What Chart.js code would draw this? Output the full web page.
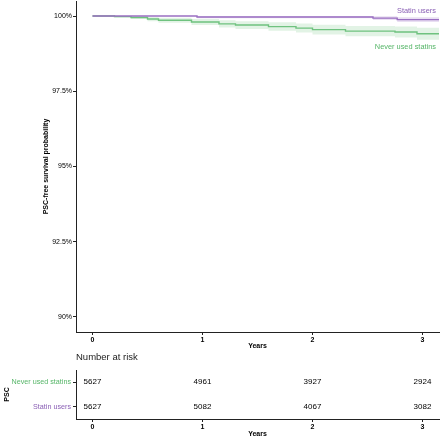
<!DOCTYPE html>
<html>
<head>
<meta charset="utf-8">
<script src="https://cdn.jsdelivr.net/npm/chart.js@4.4.1/dist/chart.umd.min.js"></script>
<style>
  body { margin: 0; background: #fff; }
  #km-box { position: absolute; left: 0; top: 0; width: 440px; height: 350px; }
  #risk-box { position: absolute; left: 0; top: 350px; width: 440px; height: 88px; }
</style>
</head>
<body>
<div id="km-box"><canvas id="km-chart" width="440" height="350"></canvas></div>
<div id="risk-box"><canvas id="risk-chart" width="440" height="88"></canvas></div>
<script>
// KM curves (years, survival %)
const statinTimes = [0, 0.95, 2.55, 2.77, 3.15];
const statinSurv = [100, 99.97, 99.93, 99.88, 99.88];
const statinLower = [100, 99.93, 99.87, 99.8, 99.8];
const statinUpper = [100, 100, 99.99, 99.96, 99.96];

const neverTimes = [0, 0.2, 0.35, 0.5, 0.6, 0.9, 1.15, 1.3, 1.6, 1.85, 2.0, 2.3, 2.75, 2.95, 3.15];
const neverSurv = [100, 99.98, 99.95, 99.9, 99.86, 99.8, 99.74, 99.7, 99.65, 99.6, 99.55, 99.5, 99.47, 99.41, 99.41];
const neverLower = [100, 99.95, 99.9, 99.83, 99.78, 99.7, 99.62, 99.57, 99.51, 99.45, 99.39, 99.33, 99.29, 99.21, 99.21];
const neverUpper = [100, 100, 100, 99.97, 99.94, 99.9, 99.86, 99.83, 99.79, 99.75, 99.71, 99.67, 99.65, 99.61, 99.61];

const xTicks = [0, 1, 2, 3];
const yTicks = [90, 92.5, 95, 97.5, 100];

// number at risk table
const groups = ["Never used statins", "Statin users"];
const riskTimes = [0, 1, 2, 3];
const riskNever = [5627, 4961, 3927, 2924];
const riskStatin = [5627, 5082, 4067, 3082];

const purple = "#9a6fc2";
const green = "#6fc27f";
const purpleText = "#8a5fb5";
const greenText = "#55b567";
const axisColor = "#222";
const font = "'Liberation Sans', Arial, sans-serif";

const pts = (xs, ys) => xs.map((x, i) => ({ x: x, y: ys[i] }));

function noPad(s) {
  s.paddingTop = 0;
  s.paddingBottom = 0;
  s.paddingLeft = 0;
  s.paddingRight = 0;
}

const xAxis = (h) => ({
  type: "linear",
  min: -0.15,
  max: 3.15,
  afterBuildTicks: (s) => { s.ticks = xTicks.map((v) => ({ value: v })); },
  afterFit: (s) => { s.height = h; noPad(s); },
  border: { display: true, color: axisColor, width: 1 },
  grid: { display: true, drawOnChartArea: false, drawTicks: true, tickLength: 3, color: axisColor },
  ticks: { autoSkip: false, maxRotation: 0, padding: 1, color: "#000", font: { family: font, size: 7, weight: "bold" } },
  title: { display: true, text: "Years", color: "#000", padding: { top: 0, bottom: 0 }, font: { family: font, size: 7, weight: "bold" } },
});

// end-of-curve labels
const curveLabels = {
  id: "curveLabels",
  afterDatasetsDraw(chart) {
    const { ctx, chartArea, scales } = chart;
    ctx.save();
    ctx.font = "7.4px " + font;
    ctx.textAlign = "right";
    ctx.textBaseline = "middle";
    ctx.fillStyle = purpleText;
    ctx.fillText("Statin users", chartArea.right - 3, scales.y.getPixelForValue(statinSurv[statinSurv.length - 1]) - 9);
    ctx.fillStyle = greenText;
    ctx.fillText("Never used statins", chartArea.right - 3, scales.y.getPixelForValue(neverSurv[neverSurv.length - 1]) + 13);
    ctx.restore();
  },
};

const kmChart = new Chart(document.getElementById("km-chart"), {
  type: "line",
  data: {
    datasets: [
      { data: pts(statinTimes, statinSurv), borderColor: purple, borderWidth: 1.4, stepped: true, fill: false },
      { data: pts(neverTimes, neverSurv), borderColor: green, borderWidth: 1.4, stepped: true, fill: false },
      { data: pts(statinTimes, statinUpper), borderWidth: 0, stepped: true, fill: false },
      { data: pts(statinTimes, statinLower), borderWidth: 0, stepped: true, fill: 2, backgroundColor: "rgba(154,111,194,0.22)" },
      { data: pts(neverTimes, neverUpper), borderWidth: 0, stepped: true, fill: false },
      { data: pts(neverTimes, neverLower), borderWidth: 0, stepped: true, fill: 4, backgroundColor: "rgba(111,194,127,0.2)" },
    ],
  },
  options: {
    responsive: false,
    animation: false,
    layout: { padding: { left: 38, right: 1, top: 1, bottom: 0 } },
    elements: { point: { radius: 0 } },
    plugins: { legend: { display: false }, tooltip: { enabled: false } },
    scales: {
      x: xAxis(18),
      y: {
        min: 89.5,
        max: 100.5,
        afterBuildTicks: (s) => { s.ticks = yTicks.map((v) => ({ value: v })); },
        afterFit: (s) => { s.width = 38; noPad(s); },
        border: { display: true, color: axisColor, width: 1 },
        grid: { display: true, drawOnChartArea: false, drawTicks: true, tickLength: 3, color: axisColor },
        ticks: { padding: 1, color: "#000", font: { family: font, size: 7 }, callback: (v) => v + "%" },
        title: { display: true, text: "PSC-free survival probability", color: "#000", padding: { top: 4, bottom: 0 }, font: { family: font, size: 7, weight: "bold" } },
      },
    },
  },
  plugins: [curveLabels],
});

// numbers in the risk table
const riskNumbers = {
  id: "riskNumbers",
  afterDatasetsDraw(chart) {
    const { ctx } = chart;
    ctx.save();
    ctx.font = "8px " + font;
    ctx.fillStyle = "#000";
    ctx.textAlign = "center";
    ctx.textBaseline = "middle";
    [riskNever, riskStatin].forEach((vals, d) => {
      chart.getDatasetMeta(d).data.forEach((el, i) => {
        ctx.fillText(String(vals[i]), el.x, el.y);
      });
    });
    ctx.restore();
  },
};

const riskChart = new Chart(document.getElementById("risk-chart"), {
  type: "scatter",
  data: {
    datasets: [
      { data: riskTimes.map((t) => ({ x: t, y: groups[0] })), pointRadius: 0 },
      { data: riskTimes.map((t) => ({ x: t, y: groups[1] })), pointRadius: 0 },
    ],
  },
  options: {
    responsive: false,
    animation: false,
    layout: { padding: { left: 0, right: 1, top: 2, bottom: 0 } },
    plugins: {
      legend: { display: false },
      tooltip: { enabled: false },
      title: {
        display: true,
        fullSize: false,
        align: "start",
        text: "Number at risk",
        color: "#222",
        padding: { top: 0, bottom: 6.6 },
        font: { family: font, size: 9.5, weight: "normal" },
      },
    },
    scales: {
      x: xAxis(19),
      y: {
        type: "category",
        labels: groups,
        offset: true,
        afterFit: (s) => { s.width = 76; noPad(s); },
        border: { display: true, color: axisColor, width: 1 },
        grid: { display: true, drawOnChartArea: false, drawTicks: true, tickLength: 3, color: axisColor, offset: false },
        ticks: { padding: 2, color: (c) => (c.index === 0 ? greenText : purpleText), font: { family: font, size: 7.2 } },
        title: { display: true, text: "PSC", color: "#000", padding: { top: 3, bottom: 0 }, font: { family: font, size: 7, weight: "bold" } },
      },
    },
  },
  plugins: [riskNumbers],
});
</script>
</body>
</html>
